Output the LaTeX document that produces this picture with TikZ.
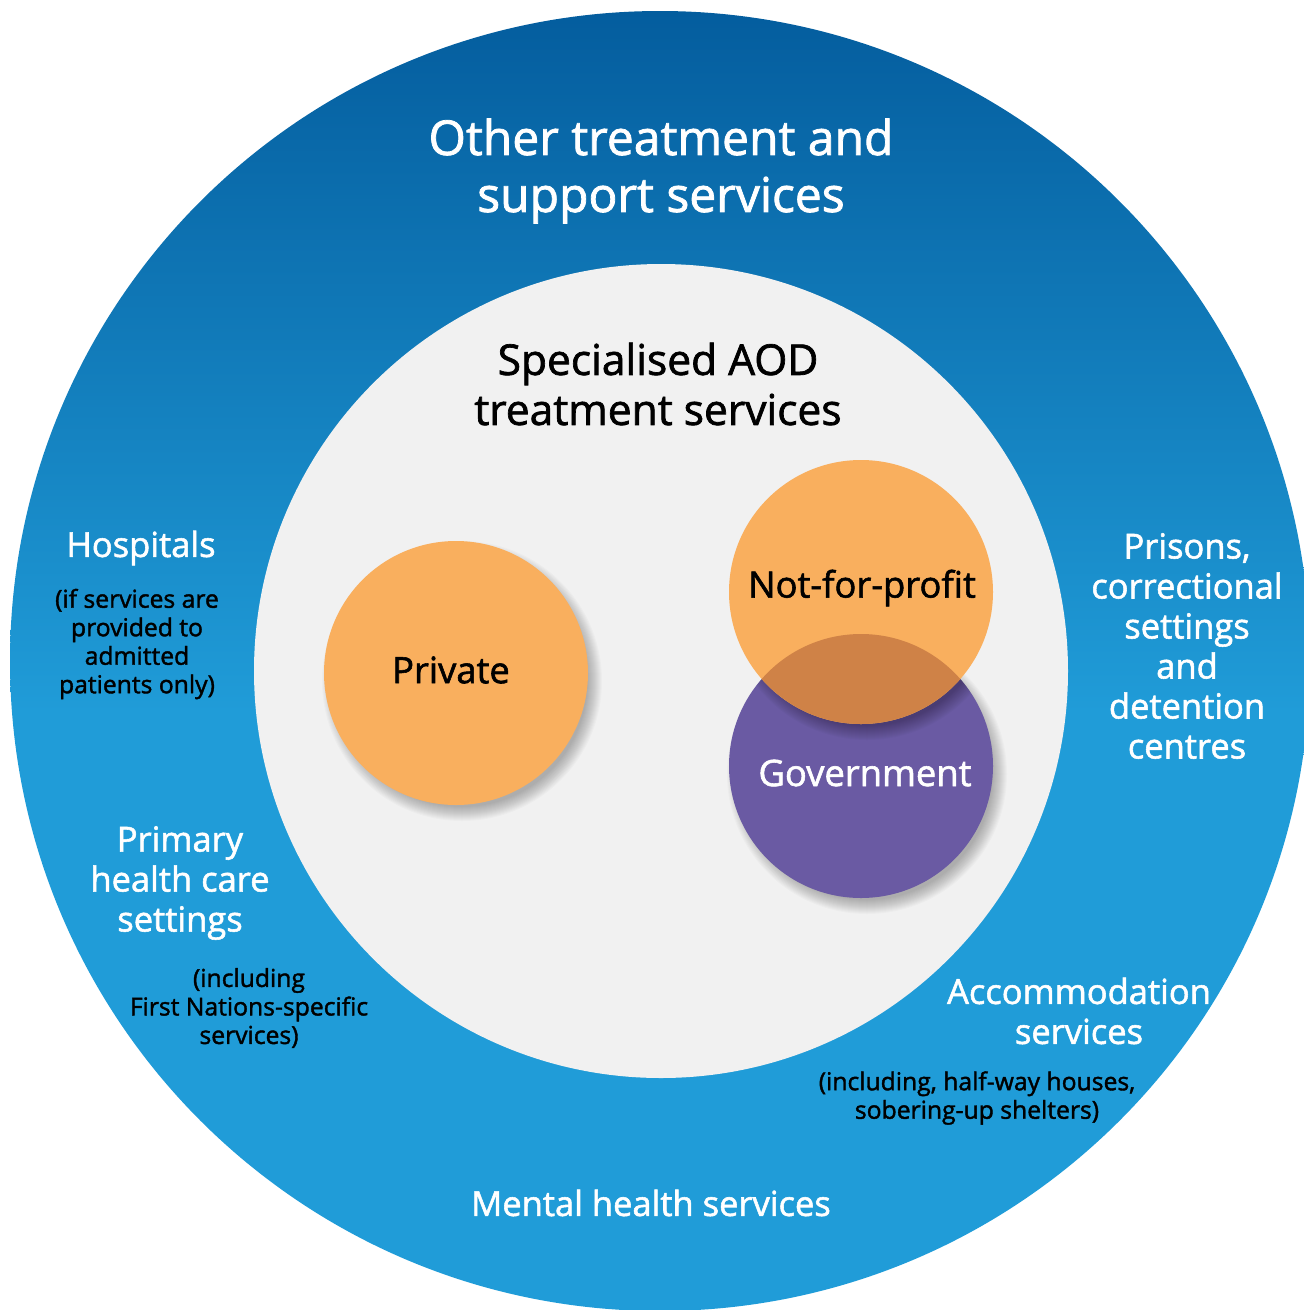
\documentclass[tikz,border=0pt]{standalone}
\usepackage{fontspec}
\setmainfont{Open Sans}[FakeBold=1.6]
\usetikzlibrary{calc}
\definecolor{outerdark}{HTML}{045D9E}
\definecolor{outerlight}{HTML}{209CD8}
\definecolor{innergrey}{HTML}{F1F1F1}
\definecolor{orangefill}{HTML}{F9AF5E}
\definecolor{purplefill}{HTML}{6A5AA3}
\definecolor{lensfill}{HTML}{CF8247}
\pgfdeclareverticalshading{outershade}{100bp}{color(0bp)=(outerlight); color(48bp)=(outerlight); color(75bp)=(outerdark); color(100bp)=(outerdark)}
\tikzset{
  titletext/.style={text=white, align=center, inner sep=0pt, font=\fontsize{48}{57}\selectfont},
  headtext/.style={text=black, align=center, inner sep=0pt, font=\fontsize{42.5}{50}\selectfont},
  ringtext/.style={text=white, align=center, inner sep=0pt, font=\fontsize{34.5}{40}\selectfont},
  notetext/.style={text=black, align=center, inner sep=0pt, font=\fontsize{24.7}{28.5}\selectfont},
  bubbletext/.style={align=center, inner sep=0pt, font=\fontsize{36.4}{40}\selectfont},
}
\def\softshadow(#1)(#2){\foreach \k in {0,...,14}{\fill[black,opacity=0.018] ($(#1)+(6,8)$) circle ({#2-6+\k});}}

\begin{document}
\begin{tikzpicture}[x=1pt,y=-1pt]
			%%%%% START %%%%%
			\useasboundingbox (0,0) rectangle (1304,1310);
			\clip (0,0) rectangle (1304,1310);
			
			\coordinate (outerc) at (660,661);
			\coordinate (innerc) at (661,671);
			\coordinate (privc) at (456,673);
			\coordinate (nfpc) at (861,592);
			\coordinate (govc) at (861,766);
			
			% rings
			\shade[shading=outershade] (outerc) circle (650);
			\fill[innergrey] (innerc) circle (407);
			
			% bubbles
			\softshadow(privc)(132)
			\fill[orangefill] (privc) circle (132);
			
			\softshadow(govc)(132)
			\fill[purplefill] (govc) circle (132);
			\begin{scope}
				\clip (govc) circle (132);
				\softshadow(nfpc)(132)
			\end{scope}
			\fill[orangefill] (nfpc) circle (132);
			\begin{scope}
				\clip (govc) circle (132);
				\fill[lensfill] (nfpc) circle (132);
			\end{scope}
			
			% labels
			\node[titletext] (other) at (661,171) {Other treatment and\\support services};
			\node[headtext] (aod) at (658,384) {Specialised AOD\\treatment services};
			
			\node[bubbletext] (private) at (451,670) {Private};
			\node[bubbletext] (notforprofit) at (862,588) {Not-for-profit};
			\node[bubbletext, text=white] (government) at (865,773) {Government};
			
			\node[ringtext] (hospitals) at (141,548) {Hospitals};
			\node[notetext] (hospnote) at (137,644) {(if services are\\provided to\\admitted\\patients only)};
			
			\node[ringtext] (primary) at (180,883) {Primary\\health care\\settings};
			\node[notetext] (primnote) at (249,1008) {(including\\First Nations-specific\\services)};
			
			\node[ringtext] (prisons) at (1187,646) {Prisons,\\correctional\\settings\\and\\detention\\centres};
			
			\node[ringtext] (accom) at (1079,1011) {Accommodation\\services};
			\node[notetext] (accomnote) at (977,1098) {(including, half-way houses,\\sobering-up shelters)};
			
			\node[ringtext] (mental) at (651,1203) {Mental health services};
			
			%%%%% END %%%%%
		\end{tikzpicture}
\end{document}
